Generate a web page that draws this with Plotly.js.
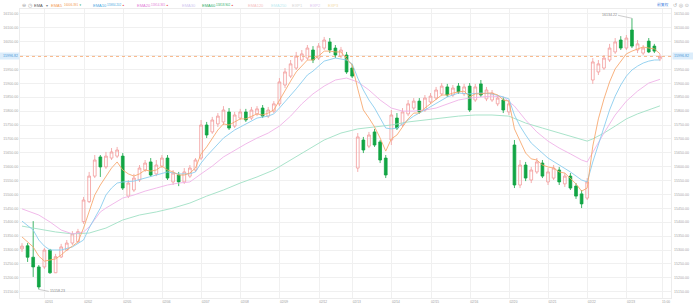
<!DOCTYPE html>
<html><head><meta charset="utf-8">
<script src="https://cdn.plot.ly/plotly-3.0.1.min.js"></script>
<style>html,body{margin:0;padding:0;background:#fff;}#chart{width:693px;height:308px;}</style>
</head><body><div id="chart"></div>
<script>
// ---------- data ----------
const dayLabels = ['02/01','02/02','02/05','02/06','02/07','02/08','02/09','02/12','02/13','02/14','02/15','02/16','02/20','02/21','02/22','02/23'];
const dayStart = [5,12,19,26,33,40,47,54,60,67,74,81,88,95,102,109];
const lastTimeLabel = '15:00';

const openP = [15304,15315,15274,15239,15239,15300,15218,15275,15300,15325,
 15330,15402,15474,15566,15635,15599,15631,15638,15638,15494,
 15516,15552,15588,15617,15574,15602,15631,15545,15570,15545,
 15566,15588,15631,15750,15725,15754,15761,15797,15746,15775,
 15797,15775,15790,15811,15782,15800,15826,15894,15926,15955,
 15984,15991,16020,15991,16027,16049,16027,15998,16002,15955,
 15595,15696,15674,15725,15689,15631,15696,15775,15750,15790,
 15811,15836,15804,15833,15847,15862,15887,15858,15890,15862,
 15890,15840,15898,15844,15840,15826,15840,15797,15678,15534,
 15606,15552,15581,15613,15545,15559,15588,15538,15566,15530,
 15502,15487,15912,15941,15955,15984,16013,16056,16027,16092,
 16020,16009,16052,16034,15988];
const highP = [15325,15325,15404,15246,15307,15304,15286,15322,15336,15368,
 15376,15491,15581,15642,15642,15653,15667,15671,15649,15552,
 15574,15606,15624,15631,15624,15642,15642,15588,15581,15595,
 15606,15631,15768,15761,15779,15793,15818,15811,15797,15808,
 15808,15815,15818,15822,15815,15836,15919,15955,15984,16013,
 16020,16038,16034,16045,16067,16063,16038,16031,16013,15970,
 15721,15707,15725,15736,15696,15642,15804,15793,15811,15840,
 15847,15847,15858,15865,15887,15901,15898,15894,15901,15898,
 15901,15898,15912,15887,15876,15858,15851,15840,15696,15624,
 15617,15599,15631,15624,15595,15606,15599,15577,15577,15541,
 15516,15559,15991,15984,16002,16042,16063,16070,16074,16134.22,
 16056,16038,16063,16042,16006];
const lowP = [15293,15257,15203,15158.23,15232,15214,15217,15271,15296,15318,
 15325,15394,15469,15559,15563,15592,15624,15631,15516,15487,
 15509,15545,15581,15563,15566,15595,15552,15534,15530,15538,
 15559,15581,15624,15703,15718,15743,15750,15732,15739,15768,
 15761,15768,15782,15775,15775,15793,15818,15883,15919,15948,
 15977,15984,15973,15984,16020,16009,15991,15991,15934,15919,
 15581,15649,15667,15671,15613,15559,15678,15732,15743,15782,
 15804,15790,15797,15826,15840,15854,15851,15851,15862,15854,
 15797,15833,15851,15836,15833,15818,15793,15786,15523,15523,
 15548,15541,15574,15559,15534,15552,15534,15527,15516,15484,
 15451,15480,15898,15930,15948,15977,16006,16020,16020,16027,
 16009,16002,16009,16009,15980];
const closeP = [15314,15274,15239,15167,15300,15218,15276,15311,15325,15358,
 15366,15480,15566,15624,15599,15638,15653,15660,15523,15541,
 15559,15595,15613,15570,15606,15631,15559,15577,15545,15581,
 15595,15624,15750,15714,15768,15782,15804,15739,15786,15797,
 15768,15804,15808,15782,15804,15826,15905,15941,15970,15998,
 16006,16027,15984,16034,16056,16020,16002,16020,15941,15926,
 15707,15660,15714,15678,15624,15570,15786,15739,15797,15826,
 15836,15797,15847,15854,15876,15890,15858,15883,15869,15887,
 15804,15887,15858,15876,15865,15847,15804,15826,15534,15606,
 15559,15588,15617,15566,15581,15595,15545,15566,15523,15494,
 15466,15545,15977,15970,15991,16027,16049,16027,16063,16034,
 16042,16027,16013,16016,15996.82];

const ema5 = [15347,15329,15311,15278,15260,15264,15268,15282,15300,15314,
 15329,15379,15437,15498,15534,15566,15595,15617,15588,15574,
 15566,15574,15588,15584,15588,15602,15588,15581,15570,15570,
 15577,15595,15646,15671,15703,15732,15754,15750,15761,15772,
 15772,15782,15790,15786,15793,15804,15840,15876,15908,15941,
 15962,15984,15984,15998,16016,16016,16013,16013,15988,15966,
 15880,15804,15775,15743,15703,15656,15700,15714,15743,15772,
 15793,15793,15811,15826,15844,15858,15858,15865,15869,15872,
 15851,15862,15862,15865,15865,15858,15840,15836,15736,15692,
 15649,15628,15624,15606,15599,15595,15581,15577,15559,15538,
 15512,15523,15674,15772,15844,15905,15952,15977,16006,16016,
 16024,16031,16027,16024,16006.391];

const ema10X = [0,2,3,4,5,7,9,11,12,13,14,15,16,17,18,20,22,24,26,28,30,31,32,33,34,36,38,40,42,44,45,46,47,48,49,50,51,52,53,54,56,58,59,60,61,62,63,64,65,66,67,68,70,72,74,76,78,80,82,84,86,87,88,89,90,91,92,94,96,98,100,101,102,103,104,105,106,107,108,109,110,111,112,113,114];
const ema10 = [15404,15372,15336,15314,15300,15300,15311,15336,15379,15415,15451,15498,15523,15541,15545,15548,15559,15570,15581,15574,15574,15581,15613,15638,15660,15703,15732,15754,15775,15782,15790,15811,15833,15854,15880,15905,15930,15944,15962,15980,15991,15984,15970,15919,15876,15840,15811,15775,15739,15736,15739,15754,15782,15804,15829,15851,15865,15862,15865,15862,15851,15844,15786,15746,15714,15685,15667,15631,15606,15581,15552,15545,15617,15678,15739,15804,15854,15894,15926,15948,15962,15973,15980,15984,15984.202];

const ema20X = [0,3,5,7,9,11,12,13,14,15,17,18,20,22,24,26,28,30,32,34,36,38,40,42,44,46,48,50,52,54,56,58,60,62,64,66,68,70,72,74,76,78,80,82,84,86,88,90,92,94,96,98,100,101,102,104,106,108,110,112,114];
const ema20 = [15448,15426,15401,15372,15358,15365,15383,15408,15437,15451,15473,15487,15498,15512,15523,15534,15541,15545,15574,15602,15635,15660,15682,15703,15721,15746,15782,15826,15862,15890,15912,15919,15905,15876,15840,15811,15800,15800,15804,15811,15826,15840,15847,15851,15854,15851,15818,15768,15725,15692,15667,15646,15624,15617,15653,15721,15786,15836,15872,15901,15914.365];

const ema60X = [0,3,6,9,12,15,18,21,24,27,30,33,36,39,42,45,48,51,54,57,60,63,66,69,72,75,78,81,84,87,90,93,96,99,101,102,104,106,108,110,112,114];
const ema60 = [15386,15376,15365,15358,15361,15379,15408,15426,15437,15451,15469,15494,15516,15541,15563,15588,15624,15660,15696,15721,15736,15743,15750,15761,15768,15775,15782,15786,15786,15782,15757,15739,15721,15703,15692,15700,15721,15746,15772,15790,15804,15818.902];

// ---------- layout helpers ----------
const W = 693, H = 308, M = {l: 20, r: 22, t: 9, b: 10};
const PW = W - M.l - M.r, PH = H - M.t - M.b;
const px = x => (x - M.l) / PW;
const py = y => 1 - (y - M.t) / PH;
const firstPx = 22, stepPx = 5.596;
const xRange = [(M.l - firstPx) / stepPx, (W - M.r - firstPx) / stepPx];
const yRange = [15127.2, 16167.6];
const FONT = 'Liberation Sans, Arial, sans-serif';

const idx = closeP.map((_, i) => i);
const lastClose = closeP[closeP.length - 1];
const maxHigh = Math.max(...highP), maxIdx = highP.indexOf(maxHigh);
const minLow = Math.min(...lowP), minIdx = lowP.indexOf(minLow);

const colors = {
  up: '#f29a9a', down: '#12a544',
  e5: 'rgba(247,165,105,0.85)', e10: 'rgba(140,205,238,0.9)', e20: 'rgba(240,178,232,0.9)', e60: 'rgba(160,224,196,0.9)'
};

const traces = [
  {type: 'candlestick', x: idx, open: openP, high: highP, low: lowP, close: closeP,
   increasing: {line: {color: colors.up, width: 0.8}, fillcolor: 'rgba(255,255,255,0)'},
   decreasing: {line: {color: colors.down, width: 0.8}, fillcolor: colors.down},
   whiskerwidth: 0, hoverinfo: 'skip', showlegend: false},
  {type: 'scatter', mode: 'lines', x: ema60X, y: ema60, line: {color: colors.e60, width: 1}, hoverinfo: 'skip', showlegend: false},
  {type: 'scatter', mode: 'lines', x: ema20X, y: ema20, line: {color: colors.e20, width: 1}, hoverinfo: 'skip', showlegend: false},
  {type: 'scatter', mode: 'lines', x: ema10X, y: ema10, line: {color: colors.e10, width: 1}, hoverinfo: 'skip', showlegend: false},
  {type: 'scatter', mode: 'lines', x: idx, y: ema5, line: {color: colors.e5, width: 1}, hoverinfo: 'skip', showlegend: false},
  {type: 'scatter', mode: 'lines', x: [idx[0]], y: [closeP[0]], yaxis: 'y2', opacity: 0, hoverinfo: 'skip', showlegend: false}
];

function dirArrow(arr) {
  const up = arr[arr.length - 1] >= arr[arr.length - 2];
  return up ? {t: '▲', c: '#e8493f'} : {t: '▼', c: '#1aa34a'};
}
const a5 = dirArrow(ema5), a10 = dirArrow(ema10), a20 = dirArrow(ema20), a60 = dirArrow(ema60);

// legend row: [pixel x, text, color, size]
const legendRow = [
  [21, '⊖', '#a0a0a0', 5],
  [27, '◷', '#a0a0a0', 5],
  [33, 'EMA', '#555555', 4],
  [45, '▾', '#888888', 4],
  [50, 'EMA5', '#f39a50', 4],
  [63, ema5[ema5.length - 1].toFixed(3), '#f39a50', 3],
  [78, a5.t, a5.c, 2.6],
  [92, 'EMA10', '#4aa9e2', 4],
  [106, ema10[ema10.length - 1].toFixed(3), '#4aa9e2', 3],
  [121, a10.t, a10.c, 2.6],
  [136, 'EMA20', '#e27ad6', 4],
  [150, ema20[ema20.length - 1].toFixed(3), '#e27ad6', 3],
  [165, a20.t, a20.c, 2.6],
  [181, 'EMA30', '#cfc7ef', 4],
  [201, 'EMA60', '#2fae68', 4],
  [215, ema60[ema60.length - 1].toFixed(3), '#2fae68', 3],
  [230, a60.t, a60.c, 2.6],
  [247, 'EMA120', '#f5c2c2', 4],
  [270, 'EMA250', '#bdecf1', 4],
  [291, 'EXP1', '#d6d6d6', 4],
  [309, 'EXP2', '#dcc6f0', 4],
  [327, 'EXP3', '#f3dcaa', 4]
];

const annotations = legendRow.map(r => ({
  xref: 'paper', yref: 'paper', x: px(r[0]), y: py(5), xanchor: 'left', yanchor: 'middle',
  text: r[1], showarrow: false, borderpad: 0, font: {family: FONT, size: r[3], color: r[2]}
}));

annotations.push(
  {xref: 'paper', yref: 'paper', x: px(656), y: py(4.5), xanchor: 'left', yanchor: 'middle', text: '前复权',
   showarrow: false, borderpad: 0, font: {family: 'Noto Sans CJK SC', size: 3.8, color: '#3d7fe0'}},
  {xref: 'paper', yref: 'paper', x: px(672), y: py(4.5), xanchor: 'left', yanchor: 'middle', text: '↺ ◎ ⊙',
   showarrow: false, borderpad: 0, font: {family: 'DejaVu Sans', size: 5, color: '#aaaaaa'}},
  // current price tags
  {xref: 'paper', yref: 'y', x: 0, y: lastClose, xanchor: 'right', yanchor: 'middle', xshift: 0,
   text: lastClose.toFixed(2), showarrow: false, bgcolor: '#dcedfb', borderpad: 1, width: 18, align: 'right',
   font: {family: FONT, size: 3.6, color: '#4a9ad8'}},
  {xref: 'paper', yref: 'y', x: 1, y: lastClose, xanchor: 'left', yanchor: 'middle', xshift: 1,
   text: lastClose.toFixed(2), showarrow: false, bgcolor: '#dcedfb', borderpad: 1, width: 19, align: 'left',
   font: {family: FONT, size: 3.6, color: '#4a9ad8'}},
  // max / min
  {xref: 'x', yref: 'y', x: maxIdx, y: maxHigh, text: maxHigh.toFixed(2), showarrow: true, arrowhead: 0,
   arrowwidth: 0.6, arrowcolor: '#aaaaaa', ax: -14, ay: -3, xanchor: 'right', yanchor: 'middle', borderpad: 0,
   font: {family: FONT, size: 3.6, color: '#888888'}},
  {xref: 'x', yref: 'y', x: minIdx, y: minLow, text: minLow.toFixed(2), showarrow: true, arrowhead: 0,
   arrowwidth: 0.6, arrowcolor: '#aaaaaa', ax: 10, ay: 2, xanchor: 'left', yanchor: 'middle', borderpad: 0,
   font: {family: FONT, size: 3.6, color: '#888888'}}
);

const tickvals = dayStart.map(s => s - 0.9).concat([idx.length - 1 + 0.37]);
const ticktext = dayLabels.concat([lastTimeLabel]);

const layout = {
  width: W, height: H, margin: M, paper_bgcolor: '#ffffff', plot_bgcolor: '#ffffff',
  showlegend: false, hovermode: false, dragmode: false, boxgap: 0.3,
  font: {family: FONT},
  xaxis: {range: xRange, tickmode: 'array', tickvals: tickvals, ticktext: ticktext,
    ticklabelshift: 4, showgrid: true, gridcolor: '#f0f0f0', gridwidth: 1, zeroline: false,
    showline: true, linecolor: '#ececec', linewidth: 1, mirror: true, ticks: '',
    tickfont: {family: FONT, size: 3.2, color: '#9a9a9a'}, rangeslider: {visible: false}, fixedrange: true},
  yaxis: {range: yRange, tick0: 15150, dtick: 50, tickformat: '.2f', showgrid: true, gridcolor: '#f0f0f0',
    zeroline: false, showline: true, linecolor: '#ececec', mirror: true, ticks: '',
    tickfont: {family: FONT, size: 3.6, color: '#a6a6a6'}, fixedrange: true},
  yaxis2: {range: yRange, overlaying: 'y', side: 'right', tick0: 15150, dtick: 50, tickformat: '.2f',
    showgrid: false, zeroline: false, ticks: '', ticklabelstandoff: 2,
    tickfont: {family: FONT, size: 3.6, color: '#a6a6a6'}, fixedrange: true},
  shapes: [
    {type: 'line', xref: 'paper', x0: 0, x1: 1, yref: 'y', y0: lastClose, y1: lastClose,
     line: {color: '#f6a46c', width: 0.8, dash: 'dot'}}
  ],
  annotations: annotations
};

Plotly.newPlot('chart', traces, layout, {staticPlot: true, displayModeBar: false});
</script>
</body></html>
